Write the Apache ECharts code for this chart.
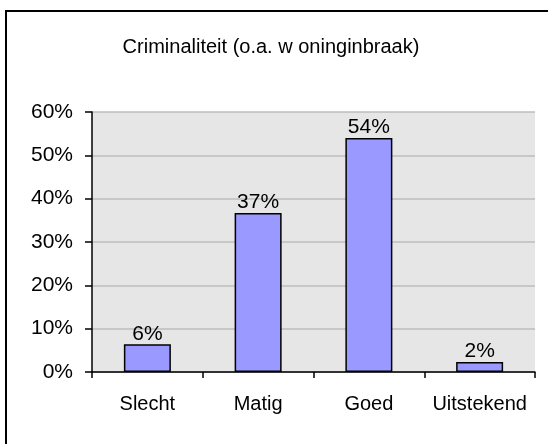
<!DOCTYPE html>
<html>
<head>
<meta charset="utf-8">
<script src="https://cdn.jsdelivr.net/npm/echarts@6/dist/echarts.min.js"></script>
<style>
    html, body { margin: 0; padding: 0; background: #fff; }
    #main { width: 548px; height: 444px; }
</style>
</head>
<body>
<div id="main"></div>
<script>
    var categories = ['Slecht', 'Matig', 'Goed', 'Uitstekend'];
    var values = [6.4, 36.7, 54, 2.3];
    var yTicks = [0, 10, 20, 30, 40, 50, 60];

    var chart = echarts.init(document.getElementById('main'));
    var font = 'Liberation Sans, Arial, sans-serif';

    var option = {
        animation: false,
        backgroundColor: '#fff',
        title: {
            text: 'Criminaliteit (o.a. w oninginbraak)',
            left: 266,
            top: 32,
            textAlign: 'center',
            textStyle: { fontFamily: font, fontSize: 20, fontWeight: 'normal', color: '#000' }
        },
        graphic: [{
            type: 'rect',
            shape: { x: 6, y: 11, width: 700, height: 700 },
            style: { fill: 'none', stroke: '#000', lineWidth: 2 },
            silent: true
        }],
        grid: {
            left: 92, right: 13, top: 112, bottom: 72,
            show: true,
            backgroundColor: '#e6e6e6',
            borderWidth: 0
        },
        xAxis: {
            type: 'category',
            data: categories,
            axisLine: { lineStyle: { color: '#000', width: 1.5 } },
            axisTick: { show: true, interval: 0, length: 6, alignWithLabel: false, lineStyle: { color: '#000', width: 1.5 } },
            axisLabel: { interval: 0, hideOverlap: false, fontFamily: font, fontSize: 20, color: '#000', margin: 22 }
        },
        yAxis: {
            type: 'value',
            min: yTicks[0],
            max: yTicks[yTicks.length - 1],
            interval: 10,
            axisLine: { show: true, lineStyle: { color: '#000', width: 1.5 } },
            axisTick: { show: true, length: 7, lineStyle: { color: '#000', width: 1.5 } },
            axisLabel: { fontFamily: font, fontSize: 21, color: '#000', margin: 19, formatter: '{value}%' },
            splitLine: { show: true, lineStyle: { color: '#bdbdbd', width: 1.5 } }
        },
        series: [{
            type: 'bar',
            data: values,
            barWidth: 47,
            itemStyle: { color: '#9999ff', borderColor: '#000', borderWidth: 1.5 },
            label: {
                show: true,
                position: 'top',
                distance: 0,
                fontFamily: font,
                fontSize: 21,
                color: '#000',
                formatter: function (p) { return Math.round(p.value) + '%'; }
            }
        }]
    };

    chart.setOption(option);
</script>
</body>
</html>
